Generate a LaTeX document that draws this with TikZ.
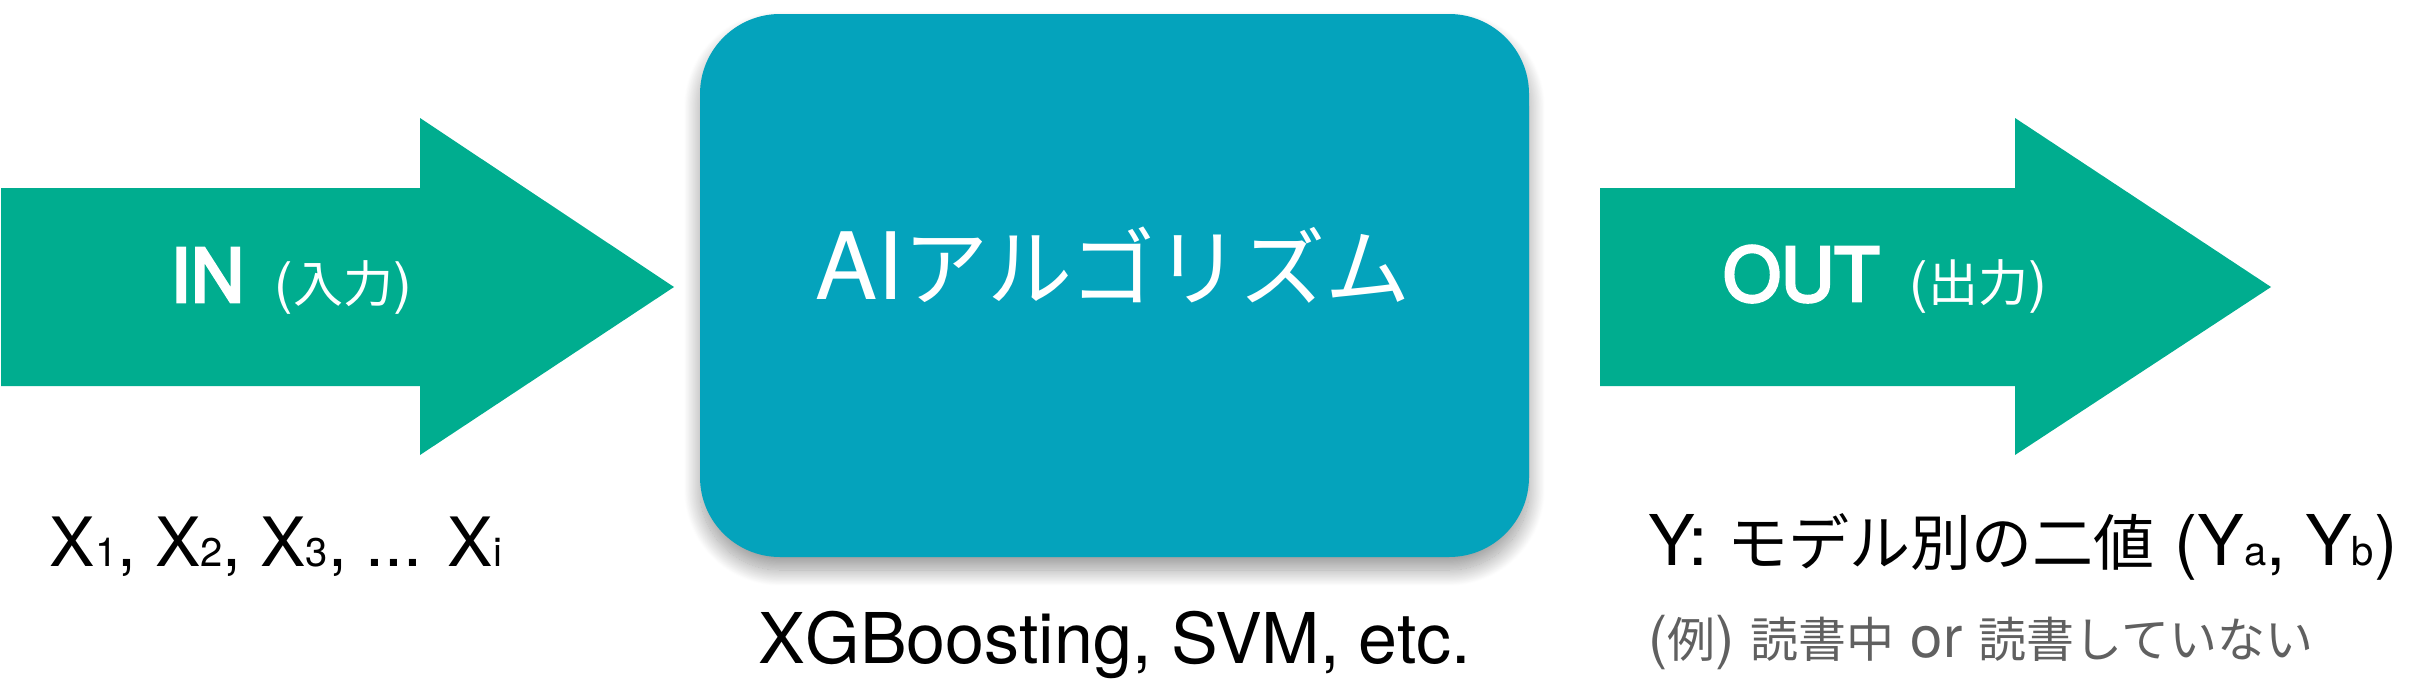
\documentclass[tikz,border=0pt]{standalone}
\usepackage{fontspec}
\setmainfont{TeX Gyre Heros}
\newfontfamily\medfont[FakeBold=4]{TeX Gyre Heros}
\newfontfamily\jp{Noto Sans CJK JP}
\usetikzlibrary{shadows.blur}
\definecolor{arrowgreen}{HTML}{00AD8F}
\definecolor{boxteal}{HTML}{04A3BC}
\definecolor{notegray}{HTML}{606060}
\newcommand\JP[2]{{\fontsize{#1pt}{#1pt}\selectfont\jp #2}}
\newcommand\Sub[1]{{\fontsize{40pt}{40pt}\selectfont #1}}
\newcommand\Fs[1]{\fontsize{#1pt}{#1pt}\selectfont}
\tikzset{
  flow/.style={fill=arrowgreen, draw=none},
  lbl/.style={inner sep=0pt, outer sep=0pt},
  algobox/.style={fill=boxteal, draw=none, rounded corners=80pt,
    minimum width=829pt, minimum height=543pt, inner sep=0pt,
    blur shadow={shadow xshift=0pt, shadow yshift=-13pt,
      shadow blur radius=16pt, shadow blur steps=30, shadow opacity=40}},
}
\begin{document}
\begin{tikzpicture}[x=1pt,y=-1pt]
\useasboundingbox (0,0) rectangle (2424,680);
% central box
\node[algobox] (algo) at (1114.5,285.5) {};
% arrows
\fill[flow] (1,188) -- (420,188) -- (420,118) -- (674,287) -- (420,455) -- (420,386) -- (1,386) -- cycle;
\fill[flow] (1600,188) -- (2015,188) -- (2015,118) -- (2271,287) -- (2015,455) -- (2015,386) -- (1600,386) -- cycle;
% labels
\node[lbl, anchor=base, text=white] (inlbl) at (291,302)
  {{\Fs{74}\medfont IN}\hspace{30pt}\Fs{56}(\JP{50}{入力})};
\node[lbl, anchor=base, text=white] (outlbl) at (1885,301)
  {{\Fs{74}\medfont OUT}\hspace{30pt}\Fs{56}(\JP{50}{出力})};
\node[lbl, anchor=base, text=white] (ailbl) at (1113,299)
  {\Fs{93}AI\JP{85}{アルゴリズム}};
\node[lbl, anchor=base] (xs) at (276,566)
  {\Fs{68}X\Sub{1}, X\Sub{2}, X\Sub{3}, ... X\Sub{i}};
\node[lbl, anchor=base] (algs) at (1115,663)
  {\Fs{70}XGBoosting, SVM, etc.};
\node[lbl, anchor=base west] (ys) at (1648,565)
  {\Fs{70}Y: \JP{61}{モデル別の二値} (Y\Sub{a}, Y\Sub{b})};
\node[lbl, anchor=base west, text=notegray] (ex) at (1648,657)
  {\Fs{58}(\JP{48}{例}) \JP{48}{読書中} or \JP{48}{読書していない}};
\end{tikzpicture}
\end{document}
